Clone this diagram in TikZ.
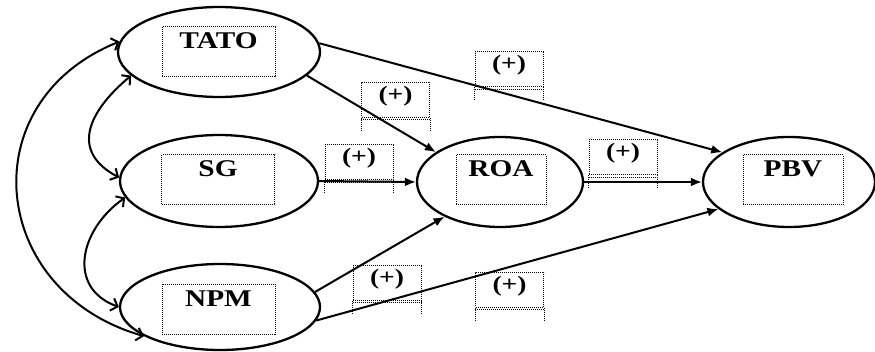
\documentclass[tikz,border=0pt]{standalone}
\usepackage{fontspec}
\setmainfont{Liberation Serif}
\usetikzlibrary{shapes,arrows.meta,positioning}

\begin{document}
\begin{tikzpicture}[x=1pt,y=1pt]
% Define node styles
\tikzstyle{var} = [ellipse, draw, line width=2.3pt, minimum width=200pt, minimum height=90pt]
\tikzstyle{dots} = [line width=1pt, dash pattern=on 1pt off 1pt]
\tikzstyle{namebox} = [rectangle, draw, dots, minimum width=113pt, inner sep=4pt, text height=18pt, text depth=24pt, font=\fontsize{24}{26}\selectfont\bfseries]
\tikzstyle{sign} = [rectangle, draw, dots, minimum width=68pt, inner sep=5pt, text height=14pt, text depth=11pt, font=\fontsize{22}{24}\selectfont\bfseries]
\tikzstyle{edge} = [line width=2pt, -{Latex[length=11pt,width=9pt]}]
\tikzstyle{corr} = [line width=2pt, {Straight Barb[length=6pt,width=13pt]}-{Straight Barb[length=6pt,width=13pt]}]

\useasboundingbox (0,0) rectangle (875,351);

% Draw variables
\node[var, minimum width=202pt] (tato) at (219,299) {};
\node[var, minimum width=198pt, minimum height=92pt] (sg) at (219,170) {};
\node[var, minimum width=166pt] (roa) at (500,169) {};
\node[var, minimum width=172pt] (pbv) at (789,169) {};
\node[var, minimum height=86pt] (npm) at (220,44) {};

\node[namebox] (tatoBox) at (218.5,299) {\scalebox{1.22}[1]{TATO}};
\node[namebox] (sgBox) at (218,171) {\scalebox{1.22}[1]{SG}};
\node[namebox, minimum width=90pt] (roaBox) at (501,171) {\scalebox{1.22}[1]{ROA}};
\node[namebox, minimum width=100pt] (pbvBox) at (793,171) {\scalebox{1.22}[1]{PBV}};
\node[namebox] (npmBox) at (218.5,42) {\scalebox{1.22}[1]{NPM}};

% Draw paths
\draw[edge] (tato.-15) -- (roa.155);
\draw[edge] (tato.5) -- (pbv.156);
\draw[edge] (sg.east) -- (roa.west);
\draw[edge] (roa.east) -- (pbv.west);
\draw[edge] (npm.9) -- (roa.212);
\draw[edge] (npm.-8) -- (pbv.201);

% Draw correlations
\draw[corr] (tato.195) to[out=220, in=152, looseness=1.4] (sg.178);
\draw[corr] (sg.190) to[out=215, in=160, looseness=1.3] (npm.180);
\draw[corr] (tato.174) to[out=202, in=164, looseness=1.4] (npm.201);

% Draw signs
\node[sign] (trSign) at (395.5,251) {\scalebox{1.25}[1]{(+)}};
\node[sign] (tpSign) at (509,281.5) {\scalebox{1.25}[1]{(+)}};
\node[sign] (srSign) at (359,188.5) {\scalebox{1.25}[1]{(+)}};
\node[sign] (rpSign) at (623,193.5) {\scalebox{1.25}[1]{(+)}};
\node[sign] (nrSign) at (387,68) {\scalebox{1.25}[1]{(+)}};
\node[sign] (npSign) at (509.5,61.5) {\scalebox{1.25}[1]{(+)}};

\foreach \s in {trSign,tpSign,srSign,rpSign,nrSign,npSign}{
  \draw[dots] (\s.south west) -- ++(0,-14);
  \draw[dots] (\s.south east) -- ++(0,-14);
  \draw[dots] ([yshift=-1.8pt]\s.south west) -- ([yshift=-1.8pt]\s.south east);
}
\end{tikzpicture}
\end{document}
